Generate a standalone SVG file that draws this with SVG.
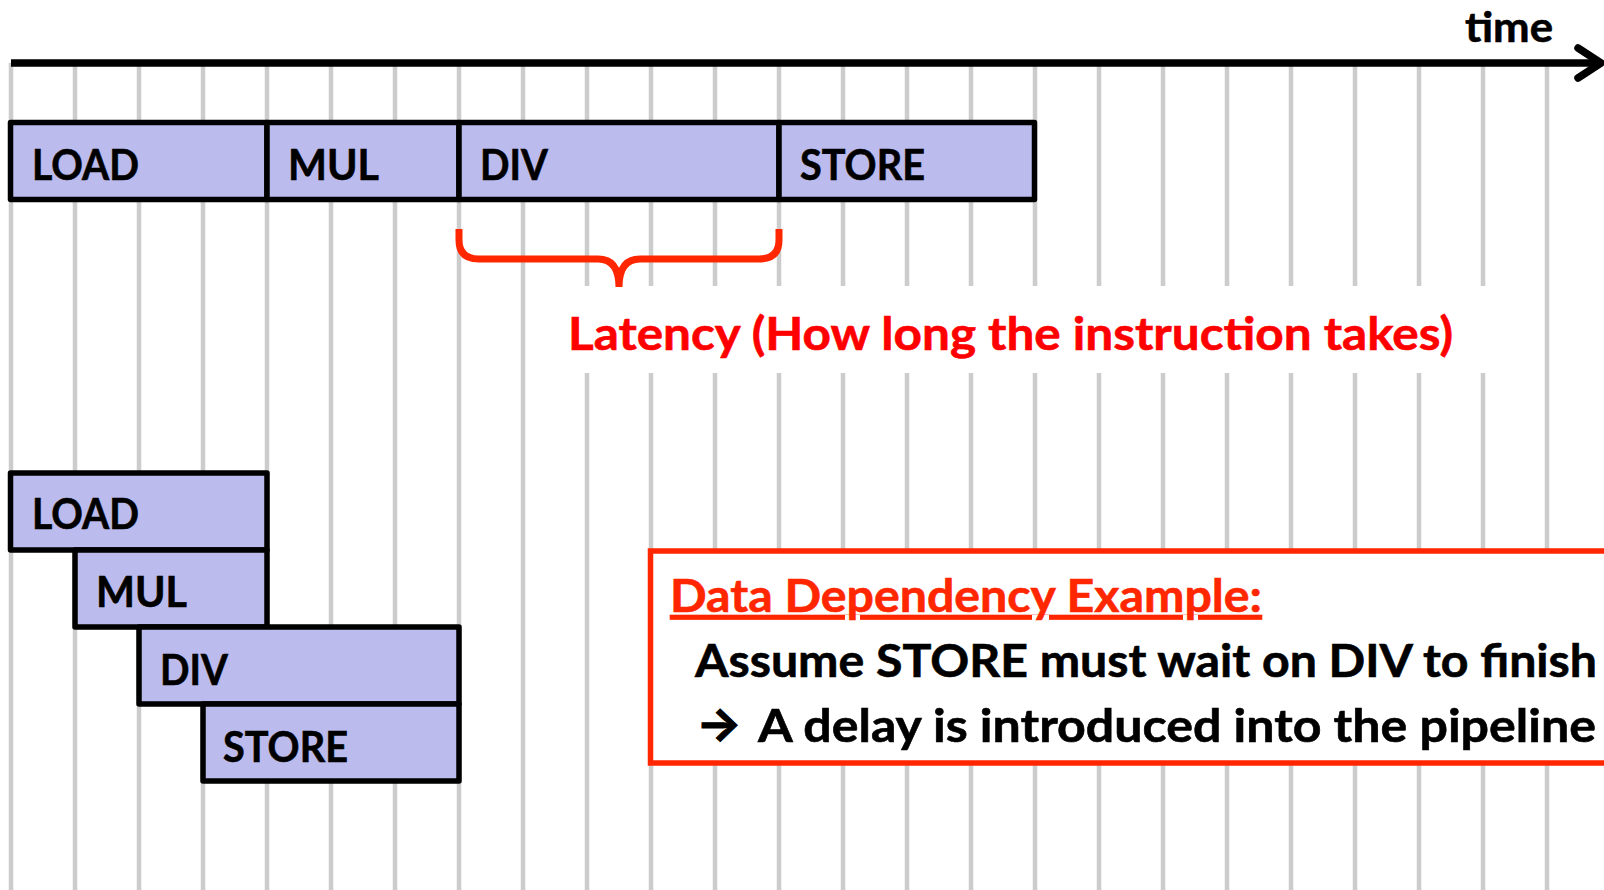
<svg xmlns="http://www.w3.org/2000/svg" width="1604" height="890" viewBox="0 0 1604 890">
  <defs>
    <style>
      .grid line { stroke: #cccccc; stroke-width: 4.5; }
      .op rect { fill: #bbbbee; stroke: #000000; stroke-width: 5.5; stroke-linejoin: round; }
      .lbl { font-family: Lato, "Liberation Sans", sans-serif; font-weight: 700; font-size: 42px; fill: #000000; stroke: #000000; stroke-width: 0.6; }
      .big { font-family: Lato, "Liberation Sans", sans-serif; font-weight: 700; font-size: 46px; stroke-width: 0.6; }
    </style>
  </defs>
  <rect x="0" y="0" width="1604" height="890" fill="#ffffff"/>

  <!-- clock-cycle grid, one line per cycle -->
  <g class="grid">
    <line x1="11" y1="63" x2="11" y2="890"/>
    <line x1="75" y1="63" x2="75" y2="890"/>
    <line x1="139" y1="63" x2="139" y2="890"/>
    <line x1="203" y1="63" x2="203" y2="890"/>
    <line x1="267" y1="63" x2="267" y2="890"/>
    <line x1="331" y1="63" x2="331" y2="890"/>
    <line x1="395" y1="63" x2="395" y2="890"/>
    <line x1="459" y1="63" x2="459" y2="890"/>
    <line x1="523" y1="63" x2="523" y2="890"/>
    <line x1="587" y1="63" x2="587" y2="890"/>
    <line x1="651" y1="63" x2="651" y2="890"/>
    <line x1="715" y1="63" x2="715" y2="890"/>
    <line x1="779" y1="63" x2="779" y2="890"/>
    <line x1="843" y1="63" x2="843" y2="890"/>
    <line x1="907" y1="63" x2="907" y2="890"/>
    <line x1="971" y1="63" x2="971" y2="890"/>
    <line x1="1035" y1="63" x2="1035" y2="890"/>
    <line x1="1099" y1="63" x2="1099" y2="890"/>
    <line x1="1163" y1="63" x2="1163" y2="890"/>
    <line x1="1227" y1="63" x2="1227" y2="890"/>
    <line x1="1291" y1="63" x2="1291" y2="890"/>
    <line x1="1355" y1="63" x2="1355" y2="890"/>
    <line x1="1419" y1="63" x2="1419" y2="890"/>
    <line x1="1483" y1="63" x2="1483" y2="890"/>
    <line x1="1547" y1="63" x2="1547" y2="890"/>
  </g>

  <!-- connectors: time axis and latency brace -->
  <g id="connectors">
    <g id="axis" stroke="#000000" stroke-width="7.5" fill="none">
      <line x1="11" y1="63" x2="1600" y2="63"/>
      <polyline points="1578,48 1601,63 1578,78" stroke-linecap="round" stroke-linejoin="round"/>
    </g>
    <text id="time-label" class="lbl" x="1465" y="42" font-size="40" textLength="88" lengthAdjust="spacingAndGlyphs">time</text>
  </g>

  <!-- sequential execution -->
  <g id="seq-load" class="op">
    <rect x="10.5" y="122.5" width="256.5" height="77"/>
    <text class="lbl" x="32" y="180" textLength="107" lengthAdjust="spacingAndGlyphs">LOAD</text>
  </g>
  <g id="seq-mul" class="op">
    <rect x="267" y="122.5" width="192" height="77"/>
    <text class="lbl" x="288" y="180" textLength="91" lengthAdjust="spacingAndGlyphs">MUL</text>
  </g>
  <g id="seq-div" class="op">
    <rect x="459" y="122.5" width="320" height="77"/>
    <text class="lbl" x="480" y="180" textLength="68" lengthAdjust="spacingAndGlyphs">DIV</text>
  </g>
  <g id="seq-store" class="op">
    <rect x="779" y="122.5" width="255.5" height="77"/>
    <text class="lbl" x="800" y="180" textLength="125" lengthAdjust="spacingAndGlyphs">STORE</text>
  </g>

  <!-- latency annotation -->
  <g id="latency">
    <rect x="556" y="286" width="944" height="87" fill="#ffffff"/>
    <path d="M459,229 L459,240 Q459,259 479,259 L598,259 Q619,259 619,287 Q619,259 640,259 L759,259 Q779,259 779,240 L779,229" fill="none" stroke="#ff2600" stroke-width="7"/>
    <text class="big" x="568" y="350" fill="#ff0000" stroke="#ff0000" textLength="885" lengthAdjust="spacingAndGlyphs">Latency (How long the instruction takes)</text>
  </g>

  <!-- pipelined execution -->
  <g id="pipe-load" class="op">
    <rect x="10.5" y="473" width="256.5" height="77"/>
    <text class="lbl" x="32" y="529" textLength="107" lengthAdjust="spacingAndGlyphs">LOAD</text>
  </g>
  <g id="pipe-mul" class="op">
    <rect x="75" y="550" width="192" height="77"/>
    <text class="lbl" x="96" y="607" textLength="91" lengthAdjust="spacingAndGlyphs">MUL</text>
  </g>
  <g id="pipe-div" class="op">
    <rect x="139" y="627" width="320" height="77"/>
    <text class="lbl" x="160" y="685" textLength="68" lengthAdjust="spacingAndGlyphs">DIV</text>
  </g>
  <g id="pipe-store" class="op">
    <rect x="203" y="704" width="256" height="77"/>
    <text class="lbl" x="223" y="762" textLength="125" lengthAdjust="spacingAndGlyphs">STORE</text>
  </g>

  <!-- dependency note -->
  <g id="dependency-note">
    <rect x="650.5" y="551" width="1000" height="212" fill="#ffffff" stroke="#ff2600" stroke-width="5.5"/>
    <text class="big" x="670" y="612" fill="#ff2600" stroke="#ff2600" text-decoration="underline" textLength="592" lengthAdjust="spacingAndGlyphs">Data Dependency Example:</text>
    <text class="big" x="695" y="677" fill="#000000" stroke="#000000" textLength="902" lengthAdjust="spacingAndGlyphs">Assume STORE must wait on DIV to finish</text>
    <text x="696" y="740" font-family="Inter, 'DejaVu Sans', sans-serif" font-weight="700" font-size="46" fill="#000000" stroke="#000000" stroke-width="1" textLength="46" lengthAdjust="spacingAndGlyphs">→</text>
    <text class="big" x="758" y="742" fill="#000000" stroke="#000000" textLength="838" lengthAdjust="spacingAndGlyphs">A delay is introduced into the pipeline</text>
  </g>
</svg>
